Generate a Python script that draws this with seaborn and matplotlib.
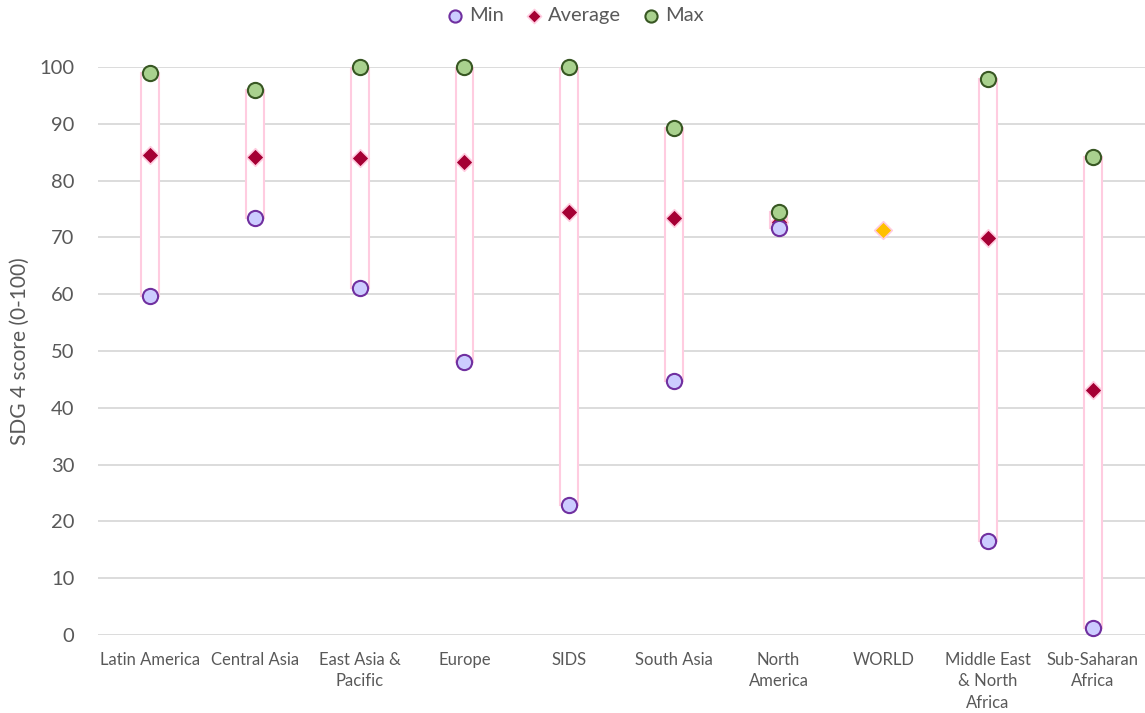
import seaborn as sns
import numpy as np
import pandas as pd
import matplotlib.pyplot as plt

regions = ['Latin America', 'Central Asia', 'East Asia &\nPacific', 'Europe', 'SIDS',
           'South Asia', 'North\nAmerica', 'WORLD', 'Middle East\n& North\nAfrica',
           'Sub-Saharan\nAfrica']
min_vals = [59.7, 73.4, 61.1, 48.1, 22.9, 44.7, 71.6, np.nan, 16.5, 1.2]
avg_vals = [84.5, 84.2, 83.9, 83.3, 74.5, 73.4, 72.8, 71.3, 69.9, 43.1]
max_vals = [99.0, 96.0, 100.0, 100.0, 100.0, 89.3, 74.4, np.nan, 97.9, 84.1]

df = pd.DataFrame({'region': regions, 'Min': min_vals, 'Average': avg_vals, 'Max': max_vals})
is_world = df['region'] == 'WORLD'

sns.set_style('white')
plt.rcParams['font.family'] = ['Lato', 'DejaVu Sans']
grey = '#595959'

fig = plt.figure(figsize=(11.45, 7.13), dpi=100)
ax = fig.add_axes([0.0856, 0.1094, 0.9144, 0.7966])

# hollow range bars from min to max
pos = np.arange(len(df))
ax.bar(pos, df['Max'] - df['Min'], bottom=df['Min'], width=0.17,
       color='white', edgecolor='#FFCCE0', linewidth=1.5, zorder=2)

sns.scatterplot(data=df, x='region', y='Min', ax=ax, marker='o', s=120,
                color='#CCCCFF', edgecolor='#7030A0', linewidth=1.5,
                label='Min', zorder=4, clip_on=False)
sns.scatterplot(data=df[~is_world], x='region', y='Average', ax=ax, marker='D', s=80,
                color='#A50034', edgecolor='#FFCCE0', linewidth=1.2,
                label='Average', zorder=3, clip_on=False)
sns.scatterplot(data=df[is_world], x='region', y='Average', ax=ax, marker='D', s=80,
                color='#FFC000', edgecolor='#FFCCE0', linewidth=1.2,
                zorder=3, clip_on=False, legend=False)
sns.scatterplot(data=df, x='region', y='Max', ax=ax, marker='o', s=120,
                color='#A9D18E', edgecolor='#385723', linewidth=1.5,
                label='Max', zorder=5, clip_on=False)

ax.set_xlim(-0.5, len(df) - 0.5)
ax.set_ylim(0, 100)
ax.set_yticks(range(0, 101, 10))
ax.yaxis.grid(True, color='#D9D9D9', linewidth=1.3)
ax.set_axisbelow(True)
for s in ax.spines.values():
    s.set_visible(False)

ax.set_xticks(pos)
ax.set_xticklabels(regions, fontsize=12, color=grey, linespacing=1.42, va='top')
ax.tick_params(axis='x', length=0, pad=12)
ax.tick_params(axis='y', length=0, pad=17, labelsize=14.5, labelcolor=grey)
ax.set_xlabel('')
ax.set_ylabel('SDG 4 score (0-100)', fontsize=15, color=grey, labelpad=7)

ax.legend(loc='center', bbox_to_anchor=(0.456, 1.09), ncol=3, frameon=False,
          fontsize=14.5, labelcolor=grey, handlelength=0.8, handletextpad=0.3,
          columnspacing=1.1, markerscale=0.8)

plt.savefig('out.png', dpi=100)
plt.close()
